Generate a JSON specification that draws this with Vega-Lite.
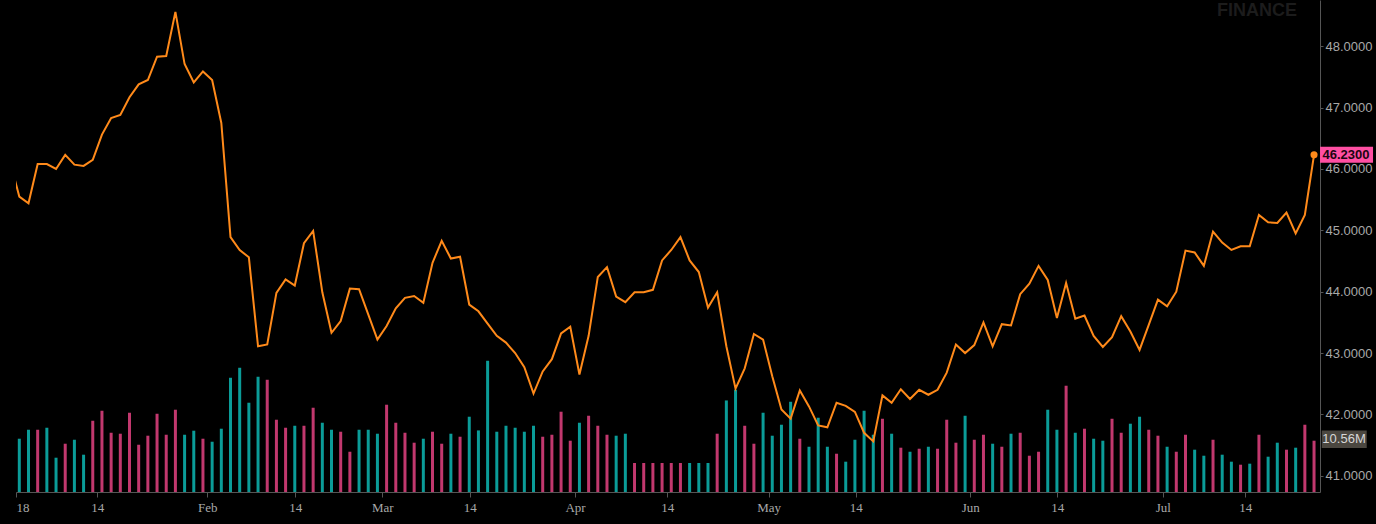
{
  "$schema": "https://vega.github.io/schema/vega-lite/v6.json",
  "width": 1304,
  "height": 492,
  "autosize": {"type": "none"},
  "padding": {"left": 16, "top": 0, "right": 56, "bottom": 32},
  "background": "#000000",
  "config": {"view": {"stroke": null}},
  "title": {
    "text": "FINANCE",
    "orient": "top",
    "anchor": "end",
    "frame": "group",
    "offset": -20,
    "dx": -23,
    "color": "#1c1c1c",
    "font": "Liberation Sans",
    "fontSize": 18,
    "fontWeight": "bold"
  },
  "data": {
    "values": [
      {"i": -1, "c": 46.11, "v": null, "d": null},
      {"i": 0, "c": 45.55, "v": 10970000, "d": "up"},
      {"i": 1, "c": 45.44, "v": 12820000, "d": "up"},
      {"i": 2, "c": 46.08, "v": 12820000, "d": "down"},
      {"i": 3, "c": 46.08, "v": 13230000, "d": "up"},
      {"i": 4, "c": 46.0, "v": 7060000, "d": "up"},
      {"i": 5, "c": 46.23, "v": 9940000, "d": "down"},
      {"i": 6, "c": 46.07, "v": 10760000, "d": "up"},
      {"i": 7, "c": 46.05, "v": 7680000, "d": "up"},
      {"i": 8, "c": 46.15, "v": 14670000, "d": "down"},
      {"i": 9, "c": 46.56, "v": 16730000, "d": "down"},
      {"i": 10, "c": 46.83, "v": 12200000, "d": "down"},
      {"i": 11, "c": 46.88, "v": 12000000, "d": "down"},
      {"i": 12, "c": 47.17, "v": 16320000, "d": "down"},
      {"i": 13, "c": 47.38, "v": 9730000, "d": "down"},
      {"i": 14, "c": 47.45, "v": 11590000, "d": "down"},
      {"i": 15, "c": 47.83, "v": 16110000, "d": "down"},
      {"i": 16, "c": 47.84, "v": 11790000, "d": "down"},
      {"i": 17, "c": 48.56, "v": 16940000, "d": "down"},
      {"i": 18, "c": 47.71, "v": 11790000, "d": "up"},
      {"i": 19, "c": 47.41, "v": 12620000, "d": "up"},
      {"i": 20, "c": 47.59, "v": 10970000, "d": "down"},
      {"i": 21, "c": 47.45, "v": 10350000, "d": "up"},
      {"i": 22, "c": 46.75, "v": 13030000, "d": "up"},
      {"i": 23, "c": 44.89, "v": 23520000, "d": "up"},
      {"i": 24, "c": 44.68, "v": 25580000, "d": "up"},
      {"i": 25, "c": 44.56, "v": 18380000, "d": "up"},
      {"i": 26, "c": 43.11, "v": 23730000, "d": "up"},
      {"i": 27, "c": 43.14, "v": 23110000, "d": "down"},
      {"i": 28, "c": 43.98, "v": 14880000, "d": "down"},
      {"i": 29, "c": 44.2, "v": 13230000, "d": "down"},
      {"i": 30, "c": 44.1, "v": 13640000, "d": "up"},
      {"i": 31, "c": 44.79, "v": 13640000, "d": "down"},
      {"i": 32, "c": 44.99, "v": 17350000, "d": "down"},
      {"i": 33, "c": 43.99, "v": 14260000, "d": "up"},
      {"i": 34, "c": 43.33, "v": 12820000, "d": "up"},
      {"i": 35, "c": 43.52, "v": 12410000, "d": "down"},
      {"i": 36, "c": 44.05, "v": 8290000, "d": "down"},
      {"i": 37, "c": 44.04, "v": 12820000, "d": "up"},
      {"i": 38, "c": 43.63, "v": 12820000, "d": "up"},
      {"i": 39, "c": 43.22, "v": 12000000, "d": "up"},
      {"i": 40, "c": 43.44, "v": 17970000, "d": "down"},
      {"i": 41, "c": 43.73, "v": 14260000, "d": "down"},
      {"i": 42, "c": 43.9, "v": 12200000, "d": "down"},
      {"i": 43, "c": 43.93, "v": 10150000, "d": "down"},
      {"i": 44, "c": 43.82, "v": 10970000, "d": "up"},
      {"i": 45, "c": 44.47, "v": 12410000, "d": "down"},
      {"i": 46, "c": 44.83, "v": 9940000, "d": "down"},
      {"i": 47, "c": 44.54, "v": 12000000, "d": "up"},
      {"i": 48, "c": 44.57, "v": 11380000, "d": "down"},
      {"i": 49, "c": 43.79, "v": 15500000, "d": "up"},
      {"i": 50, "c": 43.68, "v": 12680000, "d": "up"},
      {"i": 51, "c": 43.48, "v": 27020000, "d": "up"},
      {"i": 52, "c": 43.28, "v": 12410000, "d": "up"},
      {"i": 53, "c": 43.17, "v": 13640000, "d": "up"},
      {"i": 54, "c": 43.0, "v": 13230000, "d": "up"},
      {"i": 55, "c": 42.77, "v": 12410000, "d": "up"},
      {"i": 56, "c": 42.34, "v": 13640000, "d": "up"},
      {"i": 57, "c": 42.7, "v": 11380000, "d": "down"},
      {"i": 58, "c": 42.9, "v": 11790000, "d": "down"},
      {"i": 59, "c": 43.32, "v": 16530000, "d": "down"},
      {"i": 60, "c": 43.43, "v": 10560000, "d": "down"},
      {"i": 61, "c": 42.65, "v": 14260000, "d": "up"},
      {"i": 62, "c": 43.28, "v": 15700000, "d": "down"},
      {"i": 63, "c": 44.24, "v": 13640000, "d": "down"},
      {"i": 64, "c": 44.4, "v": 11790000, "d": "down"},
      {"i": 65, "c": 43.92, "v": 11590000, "d": "up"},
      {"i": 66, "c": 43.83, "v": 12000000, "d": "up"},
      {"i": 67, "c": 43.99, "v": 5970000, "d": "down"},
      {"i": 68, "c": 43.99, "v": 5970000, "d": "down"},
      {"i": 69, "c": 44.03, "v": 5970000, "d": "down"},
      {"i": 70, "c": 44.51, "v": 5970000, "d": "down"},
      {"i": 71, "c": 44.68, "v": 5970000, "d": "down"},
      {"i": 72, "c": 44.89, "v": 5970000, "d": "down"},
      {"i": 73, "c": 44.51, "v": 5970000, "d": "up"},
      {"i": 74, "c": 44.32, "v": 5970000, "d": "up"},
      {"i": 75, "c": 43.74, "v": 5970000, "d": "up"},
      {"i": 76, "c": 43.99, "v": 12000000, "d": "down"},
      {"i": 77, "c": 43.11, "v": 18850000, "d": "up"},
      {"i": 78, "c": 42.42, "v": 21050000, "d": "up"},
      {"i": 79, "c": 42.75, "v": 13640000, "d": "down"},
      {"i": 80, "c": 43.31, "v": 9940000, "d": "down"},
      {"i": 81, "c": 43.22, "v": 16320000, "d": "up"},
      {"i": 82, "c": 42.62, "v": 11590000, "d": "up"},
      {"i": 83, "c": 42.08, "v": 13850000, "d": "up"},
      {"i": 84, "c": 41.93, "v": 18580000, "d": "up"},
      {"i": 85, "c": 42.39, "v": 10970000, "d": "down"},
      {"i": 86, "c": 42.13, "v": 9320000, "d": "up"},
      {"i": 87, "c": 41.82, "v": 15290000, "d": "up"},
      {"i": 88, "c": 41.79, "v": 9320000, "d": "up"},
      {"i": 89, "c": 42.19, "v": 7880000, "d": "down"},
      {"i": 90, "c": 42.14, "v": 6240000, "d": "up"},
      {"i": 91, "c": 42.04, "v": 10760000, "d": "up"},
      {"i": 92, "c": 41.7, "v": 16730000, "d": "up"},
      {"i": 93, "c": 41.56, "v": 11790000, "d": "up"},
      {"i": 94, "c": 42.31, "v": 15080000, "d": "down"},
      {"i": 95, "c": 42.19, "v": 12000000, "d": "up"},
      {"i": 96, "c": 42.41, "v": 9120000, "d": "down"},
      {"i": 97, "c": 42.25, "v": 8290000, "d": "up"},
      {"i": 98, "c": 42.4, "v": 8910000, "d": "down"},
      {"i": 99, "c": 42.32, "v": 9320000, "d": "up"},
      {"i": 100, "c": 42.4, "v": 8910000, "d": "down"},
      {"i": 101, "c": 42.68, "v": 14880000, "d": "down"},
      {"i": 102, "c": 43.14, "v": 10150000, "d": "down"},
      {"i": 103, "c": 43.0, "v": 15700000, "d": "up"},
      {"i": 104, "c": 43.13, "v": 10760000, "d": "down"},
      {"i": 105, "c": 43.5, "v": 11790000, "d": "down"},
      {"i": 106, "c": 43.11, "v": 9940000, "d": "up"},
      {"i": 107, "c": 43.47, "v": 9320000, "d": "down"},
      {"i": 108, "c": 43.45, "v": 12000000, "d": "up"},
      {"i": 109, "c": 43.96, "v": 12200000, "d": "down"},
      {"i": 110, "c": 44.13, "v": 7470000, "d": "down"},
      {"i": 111, "c": 44.42, "v": 8290000, "d": "down"},
      {"i": 112, "c": 44.19, "v": 16940000, "d": "up"},
      {"i": 113, "c": 43.57, "v": 12820000, "d": "up"},
      {"i": 114, "c": 44.14, "v": 21880000, "d": "down"},
      {"i": 115, "c": 43.56, "v": 12200000, "d": "up"},
      {"i": 116, "c": 43.61, "v": 13030000, "d": "down"},
      {"i": 117, "c": 43.28, "v": 10970000, "d": "up"},
      {"i": 118, "c": 43.1, "v": 10560000, "d": "up"},
      {"i": 119, "c": 43.26, "v": 15080000, "d": "down"},
      {"i": 120, "c": 43.6, "v": 12200000, "d": "down"},
      {"i": 121, "c": 43.35, "v": 14060000, "d": "up"},
      {"i": 122, "c": 43.05, "v": 15500000, "d": "up"},
      {"i": 123, "c": 43.46, "v": 12820000, "d": "down"},
      {"i": 124, "c": 43.87, "v": 11590000, "d": "down"},
      {"i": 125, "c": 43.76, "v": 9320000, "d": "up"},
      {"i": 126, "c": 44.0, "v": 8290000, "d": "down"},
      {"i": 127, "c": 44.67, "v": 11790000, "d": "down"},
      {"i": 128, "c": 44.64, "v": 8710000, "d": "up"},
      {"i": 129, "c": 44.42, "v": 7470000, "d": "up"},
      {"i": 130, "c": 44.98, "v": 10760000, "d": "down"},
      {"i": 131, "c": 44.8, "v": 7680000, "d": "up"},
      {"i": 132, "c": 44.68, "v": 6240000, "d": "up"},
      {"i": 133, "c": 44.74, "v": 5620000, "d": "down"},
      {"i": 134, "c": 44.74, "v": 5830000, "d": "up"},
      {"i": 135, "c": 45.25, "v": 11790000, "d": "down"},
      {"i": 136, "c": 45.13, "v": 7270000, "d": "up"},
      {"i": 137, "c": 45.12, "v": 10150000, "d": "up"},
      {"i": 138, "c": 45.29, "v": 8710000, "d": "down"},
      {"i": 139, "c": 44.95, "v": 9120000, "d": "up"},
      {"i": 140, "c": 45.25, "v": 13850000, "d": "down"},
      {"i": 141, "c": 46.23, "v": 10560000, "d": "down"}
    ]
  },
  "encoding": {
    "x": {
      "field": "i",
      "type": "quantitative",
      "scale": {"domain": [-0.36, 141.65], "nice": false, "zero": false, "padding": 0},
      "axis": {
        "title": null,
        "grid": false,
        "values": [-0.36, 8.49, 20.47, 30.06, 39.53, 49.05, 60.52, 70.57, 81.61, 91.09, 103.57, 113.04, 124.52, 133.52],
        "labelExpr": "datum.value < 0 ? '18' : datum.value < 10 ? '14' : datum.value < 21 ? 'Feb' : datum.value < 31 ? '14' : datum.value < 40 ? 'Mar' : datum.value < 50 ? '14' : datum.value < 61 ? 'Apr' : datum.value < 71 ? '14' : datum.value < 82 ? 'May' : datum.value < 92 ? '14' : datum.value < 104 ? 'Jun' : datum.value < 114 ? '14' : datum.value < 125 ? 'Jul' : '14'",
        "labelFlush": true,
        "labelOverlap": false,
        "labelFont": "Liberation Serif",
        "labelFontSize": 13,
        "labelColor": "#a8a8a8",
        "labelPadding": 4,
        "tickSize": 5,
        "tickColor": "#555555",
        "domainColor": "#555555"
      }
    }
  },
  "layer": [
    {
      "encoding": {
        "y": {
          "field": "v",
          "type": "quantitative",
          "scale": {"domain": [0, 101300000], "nice": false},
          "axis": null
        }
      },
      "layer": [
        {
          "transform": [{"filter": "isValid(datum.v)"}],
          "mark": {"type": "bar", "orient": "vertical", "size": 3, "clip": true},
          "encoding": {
            "color": {
              "field": "d",
              "type": "nominal",
              "scale": {"domain": ["up", "down"], "range": ["#0b9c98", "#c2386e"]},
              "legend": null
            }
          }
        },
        {
          "transform": [{"filter": "datum.i == 141"}],
          "mark": {"type": "point", "shape": "M0.77,-1.03H5.27V0.73H0.77Z", "size": 400, "filled": true, "color": "#4b4740", "opacity": 1, "strokeWidth": 0}
        },
        {
          "transform": [{"filter": "datum.i == 141"}],
          "mark": {"type": "text", "dx": 30, "dy": -1.5, "align": "center", "baseline": "middle", "font": "Liberation Sans", "fontSize": 13, "color": "#d6d6d6"},
          "encoding": {"text": {"field": "v", "type": "quantitative", "format": ".4s"}}
        }
      ]
    },
    {
      "encoding": {
        "y": {
          "field": "c",
          "type": "quantitative",
          "scale": {"domain": [40.735, 48.754], "nice": false, "zero": false},
          "axis": {
            "orient": "right",
            "title": null,
            "values": [41, 42, 43, 44, 45, 46, 47, 48],
            "format": ".4f",
            "labelFont": "Liberation Sans",
            "labelFontSize": 13,
            "labelColor": "#a8a8a8",
            "labelPadding": 2,
            "tickSize": 3,
            "tickColor": "#555555",
            "domainColor": "#555555",
            "gridColor": "#1c1c1c"
          }
        }
      },
      "layer": [
        {
          "mark": {"type": "line", "color": "#ff8a1a", "strokeWidth": 2, "clip": true}
        },
        {
          "transform": [{"filter": "datum.i == 141"}],
          "mark": {"type": "circle", "color": "#ff8a1a", "size": 50, "opacity": 1}
        },
        {
          "transform": [{"filter": "datum.i == 141"}],
          "mark": {"type": "point", "shape": "M0.6,-0.8H5.9V0.8H0.6Z", "size": 400, "filled": true, "color": "#ff4fa3", "opacity": 1, "strokeWidth": 0}
        },
        {
          "transform": [{"filter": "datum.i == 141"}],
          "mark": {"type": "text", "dx": 32, "align": "center", "baseline": "middle", "font": "Liberation Sans", "fontSize": 13, "fontWeight": "bold", "color": "#1b0510"},
          "encoding": {"text": {"field": "c", "type": "quantitative", "format": ".4f"}}
        }
      ]
    }
  ],
  "resolve": {"scale": {"y": "independent"}}
}
